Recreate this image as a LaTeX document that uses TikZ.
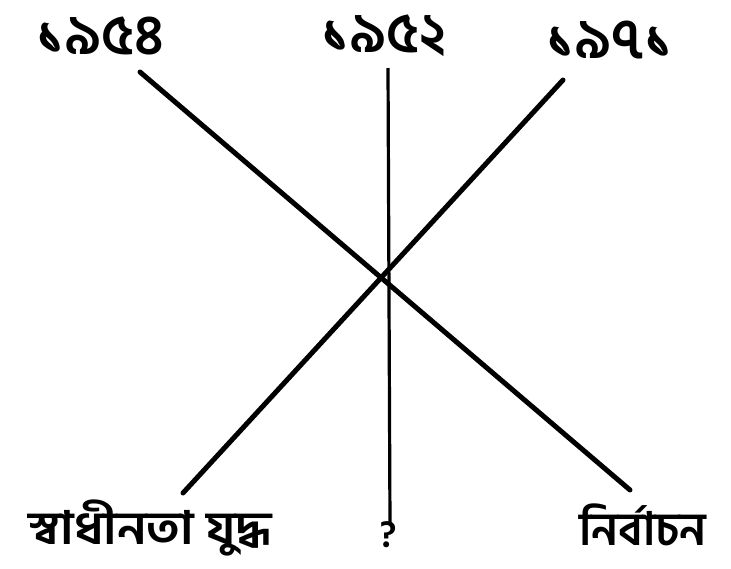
\documentclass[tikz,border=0pt]{standalone}
\usepackage{fontspec}
\newfontfamily\bn[Script=Bengali]{Hind Siliguri}
\begin{document}
\begin{tikzpicture}[x=1pt,y=-1pt,
  lbl/.style={inner sep=0pt,anchor=base,font=\bn\bfseries\fontsize{46}{52}\selectfont},
  num/.style={inner sep=0pt,font=\bn\bfseries\fontsize{56}{62}\selectfont},
  ln/.style={line width=5pt,line cap=round},
  vln/.style={line width=3.2pt}]
\useasboundingbox (0,0) rectangle (731,568);
\node[num] (t1) at (100,36) {১৯৫৪};
\node[num] (t2) at (384,36) {১৯৫২};
\node[num] (t3) at (610,40) {১৯৭১};
\node[lbl,xscale=1.1] (b1) at (150,544) {স্বাধীনতা যুদ্ধ};
\node[lbl,font=\bn\bfseries\fontsize{38}{44}\selectfont] (b2) at (388,547) {?};
\node[lbl] (b3) at (643,545) {নির্বাচন};
\coordinate (a1) at (140,72);
\coordinate (a2) at (630,490);
\coordinate (v1) at (388,68);
\coordinate (v2) at (390,525);
\coordinate (c1) at (563,80);
\coordinate (c2) at (183,493);
\draw[ln] (a1) -- (a2);
\draw[vln] (v1) -- (v2);
\draw[ln] (c1) -- (c2);
\end{tikzpicture}
\end{document}
